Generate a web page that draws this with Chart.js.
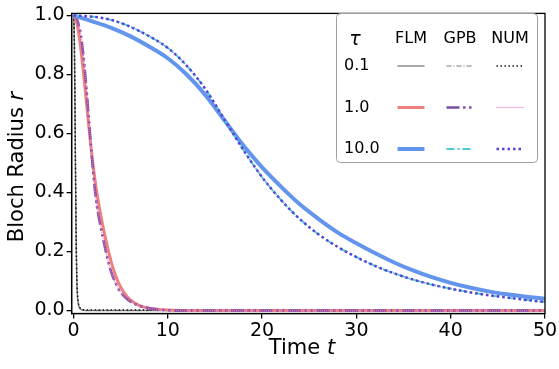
<!DOCTYPE html>
<html>
<head>
<meta charset="utf-8">
<script src="https://cdn.jsdelivr.net/npm/chart.js@4/dist/chart.umd.min.js"></script>
<style>
  html, body { margin: 0; padding: 0; background: #fff; }
</style>
</head>
<body>
<canvas id="grafico" width="559" height="369"></canvas>
<script>
// legend table labels
const tauLabels = ["0.1", "1.0", "10.0"];
const methods = ["FLM", "GPB", "NUM"];

const xTicks = [0, 10, 20, 30, 40, 50];
const yTicks = [0, 0.2, 0.4, 0.6, 0.8, 1.0];

// tau = 0.1
const tShort = [0, 0.05, 0.1, 0.15, 0.2, 0.25, 0.3, 0.35, 0.4, 0.5, 0.6, 0.8, 1.0, 1.5, 50];
const flmTau01 = [1.0, 0.97, 0.88, 0.72, 0.52, 0.34, 0.2, 0.11, 0.06, 0.025, 0.012, 0.004, 0.001, 0, 0];
const gpbTau01 = [1.0, 0.98, 0.9, 0.74, 0.53, 0.34, 0.2, 0.11, 0.06, 0.025, 0.012, 0.004, 0.001, 0, 0];
const numTau01 = [1.0, 0.98, 0.9, 0.74, 0.53, 0.35, 0.21, 0.12, 0.07, 0.03, 0.015, 0.006, 0.003, 0.002, 0.002];

// tau = 1.0
const tMid = [0, 0.25, 0.5, 0.75, 1, 1.25, 1.5, 1.75, 2, 2.25, 2.5, 3, 3.5, 4, 4.5, 5, 5.5, 6, 7, 8, 9, 10, 12, 50];
const flmTau1 = [1.0, 0.988, 0.95, 0.893, 0.823, 0.745, 0.664, 0.585, 0.512, 0.45, 0.395, 0.305, 0.23, 0.165, 0.115, 0.08, 0.055, 0.037, 0.017, 0.008, 0.004, 0.002, 0, 0];
const gpbTau1 = [1.0, 0.995, 0.975, 0.94, 0.88, 0.8, 0.705, 0.6, 0.5, 0.415, 0.35, 0.265, 0.19, 0.13, 0.09, 0.062, 0.044, 0.031, 0.016, 0.008, 0.003, 0.001, 0, 0];
const numTau1 = [1.0, 0.995, 0.975, 0.94, 0.88, 0.8, 0.705, 0.6, 0.5, 0.415, 0.35, 0.265, 0.19, 0.13, 0.09, 0.062, 0.044, 0.031, 0.016, 0.008, 0.003, 0.001, 0, 0];

// tau = 10.0
const tLong = [0, 2, 4, 6, 8, 10, 12, 14, 16, 18, 20, 22, 24, 26, 28, 30, 32, 34, 36, 38, 40, 42, 44, 46, 48, 50];
const flmTau10 = [1.0, 0.98, 0.958, 0.93, 0.895, 0.855, 0.8, 0.73, 0.645, 0.56, 0.485, 0.42, 0.36, 0.31, 0.265, 0.228, 0.194, 0.163, 0.136, 0.113, 0.094, 0.078, 0.065, 0.055, 0.047, 0.04];
const gpbTau10 = [1.0, 0.996, 0.985, 0.962, 0.93, 0.89, 0.83, 0.75, 0.648, 0.545, 0.452, 0.375, 0.31, 0.258, 0.216, 0.181, 0.151, 0.126, 0.105, 0.088, 0.074, 0.062, 0.052, 0.044, 0.036, 0.029];
const numTau10 = [1.0, 0.996, 0.985, 0.962, 0.93, 0.89, 0.83, 0.75, 0.648, 0.545, 0.452, 0.375, 0.31, 0.258, 0.216, 0.181, 0.151, 0.126, 0.105, 0.088, 0.074, 0.062, 0.052, 0.044, 0.036, 0.029];

function pares(ts, rs) {
    return ts.map((t, i) => ({ x: t, y: rs[i] }));
}

function linha(label, ts, rs, cor, largura, tracos, ordem) {
    return {
        label: label,
        data: pares(ts, rs),
        borderColor: cor,
        borderWidth: largura,
        borderDash: tracos,
        pointRadius: 0,
        fill: false,
        cubicInterpolationMode: 'monotone',
        order: ordem
    };
}

const datasets = [
    linha("FLM 0.1", tShort, flmTau01, "#8c8c8c", 1.5, [], 9),
    linha("GPB 0.1", tShort, gpbTau01, "#555555", 0.8, [5, 2, 1, 2], 8),
    linha("NUM 0.1", tShort, numTau01, "#111111", 1.5, [1.5, 2.5], 7),
    linha("FLM 1.0", tMid, flmTau1, "#f08080", 3, [], 6),
    linha("GPB 1.0", tMid, gpbTau1, "#7b4ea6", 2.5, [13, 3.5, 2.5, 3.5, 2.5, 3.5], 5),
    linha("NUM 1.0", tMid, numTau1, "#e377c2", 1.2, [1, 1], 4),
    linha("FLM 10.0", tLong, flmTau10, "#6495ed", 4, [], 3),
    linha("GPB 10.0", tLong, gpbTau10, "#48c8d4", 1.8, [8, 3, 2, 3], 2),
    linha("NUM 10.0", tLong, numTau10, "#5b3fd9", 2.5, [2.5, 3], 1)
];

const fonte = "DejaVu Sans";

// top/right frame, axis titles with italic symbols, table legend
const extras = {
    id: 'extras',
    afterDraw(chart) {
        const ctx = chart.ctx;
        const area = chart.chartArea;
        ctx.save();
        ctx.strokeStyle = "#000";
        ctx.lineWidth = 1.3;
        ctx.strokeRect(area.left, area.top, area.right - area.left, area.bottom - area.top);

        // x title
        ctx.fillStyle = "#000";
        ctx.textBaseline = "middle";
        ctx.font = "21px " + fonte;
        let w1 = ctx.measureText("Time ").width;
        ctx.font = "italic 21px " + fonte;
        let w2 = ctx.measureText("t").width;
        let x0 = 302 - (w1 + w2) / 2;
        ctx.font = "21px " + fonte;
        ctx.textAlign = "left";
        ctx.fillText("Time ", x0, 349);
        ctx.font = "italic 21px " + fonte;
        ctx.fillText("t", x0 + w1, 349);

        // y title
        ctx.save();
        ctx.translate(18, 167);
        ctx.rotate(-Math.PI / 2);
        ctx.font = "21px " + fonte;
        w1 = ctx.measureText("Bloch Radius ").width;
        ctx.font = "italic 21px " + fonte;
        w2 = ctx.measureText("r").width;
        x0 = -(w1 + w2) / 2;
        ctx.font = "21px " + fonte;
        ctx.fillText("Bloch Radius ", x0, 0);
        ctx.font = "italic 21px " + fonte;
        ctx.fillText("r", x0 + w1, 0);
        ctx.restore();

        // legend box
        ctx.fillStyle = "rgba(255,255,255,0.8)";
        ctx.strokeStyle = "#a0a0a0";
        ctx.lineWidth = 1;
        ctx.beginPath();
        ctx.roundRect(336.5, 13.5, 201, 149, 4);
        ctx.fill();
        ctx.stroke();

        ctx.fillStyle = "#000";
        ctx.textAlign = "center";
        ctx.font = "italic 19px " + fonte;
        ctx.fillText("\u03c4", 355, 40);
        const colunas = [411, 460, 510];
        ctx.font = "16px " + fonte;
        methods.forEach((m, j) => ctx.fillText(m, colunas[j], 39));
        const linhas = [66, 107.5, 149];
        tauLabels.forEach((tau, i) => {
            ctx.textAlign = "left";
            ctx.fillStyle = "#000";
            ctx.fillText(tau, 344, linhas[i]);
            methods.forEach((m, j) => {
                const ds = chart.data.datasets[i * 3 + j];
                ctx.strokeStyle = ds.borderColor;
                ctx.lineWidth = ds.borderWidth;
                ctx.setLineDash(ds.borderDash);
                ctx.beginPath();
                ctx.moveTo(colunas[j] - 13.5, linhas[i]);
                ctx.lineTo(colunas[j] + 13.5, linhas[i]);
                ctx.stroke();
            });
            ctx.setLineDash([]);
        });
        ctx.restore();
    }
};

const grafico = new Chart(document.getElementById("grafico"), {
    type: 'line',
    data: { datasets: datasets },
    options: {
        responsive: false,
        animation: false,
        devicePixelRatio: 1,
        layout: { padding: { top: 5, right: 14, left: 0, bottom: 0 } },
        plugins: { legend: { display: false }, tooltip: { enabled: false } },
        scales: {
            x: {
                type: 'linear',
                min: -0.2,
                max: 50,
                afterBuildTicks: s => { s.ticks = xTicks.map(v => ({ value: v })); },
                afterFit: s => { s.height = 55.5; },
                ticks: { color: "#000", font: { family: fonte, size: 19 }, padding: 1, maxRotation: 0, autoSkip: false },
                grid: { drawOnChartArea: false, color: "#000", tickLength: 5, lineWidth: 1.3 },
                border: { color: "#000", width: 1.3 }
            },
            y: {
                type: 'linear',
                min: -0.01,
                max: 1.007,
                afterBuildTicks: s => { s.ticks = yTicks.map(v => ({ value: v })); },
                afterFit: s => { s.width = 71.6; },
                ticks: { color: "#000", font: { family: fonte, size: 19 }, padding: 2, callback: v => v.toFixed(1) },
                grid: { drawOnChartArea: false, color: "#000", tickLength: 5, lineWidth: 1.3 },
                border: { color: "#000", width: 1.3 }
            }
        }
    },
    plugins: [extras]
});
</script>
</body>
</html>
